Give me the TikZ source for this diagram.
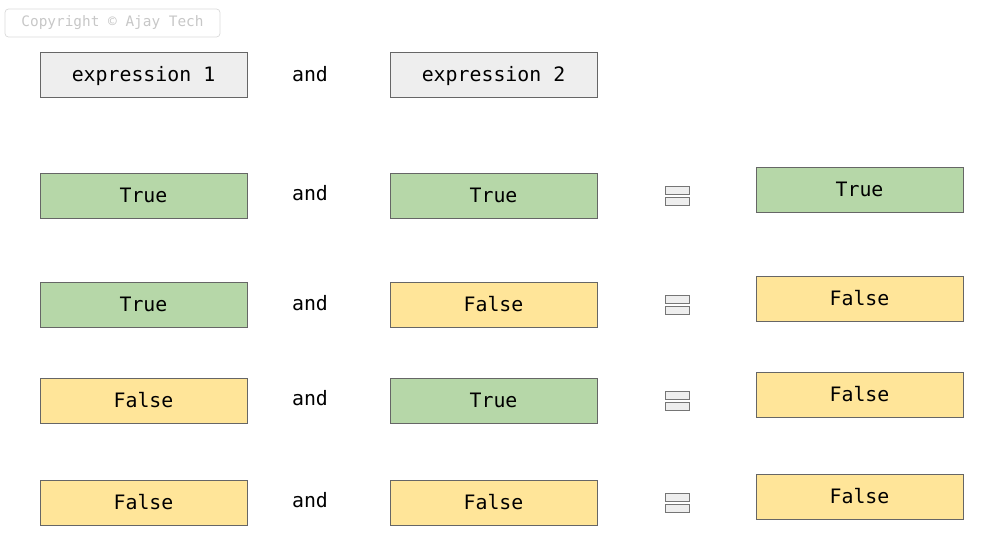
\documentclass[tikz,border=0pt]{standalone}
\usepackage{fontspec}
\setmonofont{DejaVu Sans Mono}
\usetikzlibrary{calc}

\definecolor{boxgray}{HTML}{EEEEEE}
\definecolor{boxgreen}{HTML}{B6D7A8}
\definecolor{boxyellow}{HTML}{FFE599}
\definecolor{edgegray}{HTML}{666666}

\begin{document}
\begin{tikzpicture}[
    font=\ttfamily\fontsize{11.3}{13}\selectfont,
    cell/.style={draw=edgegray, minimum width=4.14cm, minimum height=0.9cm, inner sep=0pt,
                 text height=9pt, text depth=1pt},
    expr/.style={cell, fill=boxgray},
    yes/.style={cell, fill=boxgreen},
    no/.style={cell, fill=boxyellow},
    bar/.style={draw=edgegray!90, fill=boxgray, line width=0.5pt}
  ]

  \useasboundingbox (0,0) rectangle (19.84,-10.8);

  % Watermark
  \node[draw=black!15, rounded corners=2pt, text=black!22,
        font=\ttfamily\fontsize{8.2}{10}\selectfont,
        minimum width=4.3cm, minimum height=0.56cm] (Mark) at (2.25,-0.46) {Copyright \textcopyright{} Ajay Tech};

  % Header
  \node[expr] (E1) at (2.87,-1.49) {expression 1};
  \node (A0) at (6.2,-1.48) {and};
  \node[expr] (E2) at (9.87,-1.49) {expression 2};

  % Row 1
  \node[yes] (L1) at (2.87,-3.91) {True};
  \node (A1) at (6.2,-3.86) {and};
  \node[yes] (M1) at (9.87,-3.91) {True};
  \coordinate (Q1) at (13.54,-3.91);
  \node[yes] (R1) at (17.19,-3.79) {True};

  % Row 2
  \node[yes] (L2) at (2.87,-6.09) {True};
  \node (A2) at (6.2,-6.06) {and};
  \node[no] (M2) at (9.87,-6.09) {False};
  \coordinate (Q2) at (13.54,-6.09);
  \node[no] (R2) at (17.19,-5.97) {False};

  % Row 3
  \node[no] (L3) at (2.87,-8.01) {False};
  \node (A3) at (6.2,-7.96) {and};
  \node[yes] (M3) at (9.87,-8.01) {True};
  \coordinate (Q3) at (13.54,-8.01);
  \node[no] (R3) at (17.19,-7.89) {False};

  % Row 4
  \node[no] (L4) at (2.87,-10.05) {False};
  \node (A4) at (6.2,-10.0) {and};
  \node[no] (M4) at (9.87,-10.05) {False};
  \coordinate (Q4) at (13.54,-10.05);
  \node[no] (R4) at (17.19,-9.93) {False};

  % Equals signs
  \foreach \q in {Q1,Q2,Q3,Q4} {
    \draw[bar] ($(\q)+(-0.24,0.03)$) rectangle ($(\q)+(0.24,0.19)$);
    \draw[bar] ($(\q)+(-0.24,-0.03)$) rectangle ($(\q)+(0.24,-0.19)$);
  }

\end{tikzpicture}
\end{document}
